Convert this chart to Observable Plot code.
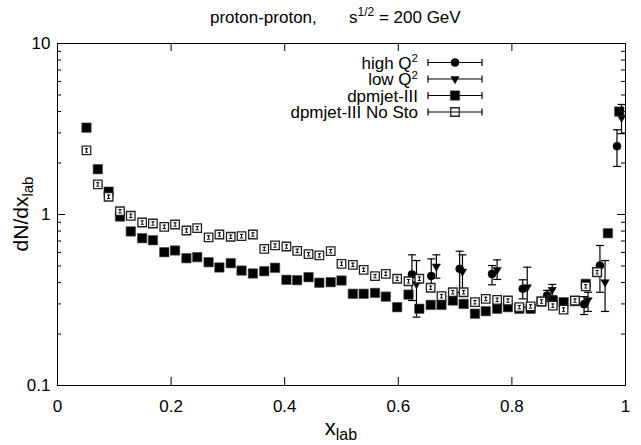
<!DOCTYPE html>
<html><head><meta charset="utf-8">
<script src="https://cdn.jsdelivr.net/npm/d3@7"></script>
<script src="https://cdn.jsdelivr.net/npm/@observablehq/plot@0.6"></script>
<style>body{margin:0;background:#fff}</style>
</head><body><div id="chart"></div>
<script>
// ---- data ----
const xBins = [0.051,0.071,0.090,0.110,0.129,0.149,0.168,0.188,0.207,0.227,0.246,0.266,0.285,0.305,0.324,0.344,0.364,0.383,0.403,0.422,0.442,0.461,0.481,0.500,0.520,0.539,0.559,0.578,0.598,0.618,0.637,0.657,0.676,0.696,0.715,0.735,0.754,0.774,0.793,0.813,0.833,0.852,0.872,0.891,0.911,0.930,0.950,0.969,0.989];
const dpmjet = [3.22,1.84,1.36,0.973,0.796,0.727,0.707,0.602,0.616,0.555,0.563,0.526,0.49,0.519,0.47,0.452,0.466,0.488,0.415,0.413,0.43,0.399,0.402,0.411,0.344,0.344,0.348,0.331,0.287,0.34,0.281,0.296,0.296,0.314,0.30,0.263,0.272,0.281,0.287,0.281,0.281,0.31,0.314,0.307,0.311,0.393,0.46,0.777,4.0];
const dpmjetNoSto = [2.37,1.50,1.27,1.045,0.983,0.898,0.886,0.847,0.874,0.806,0.832,0.734,0.764,0.741,0.747,0.764,0.63,0.659,0.65,0.613,0.586,0.576,0.61,0.515,0.508,0.475,0.436,0.45,0.421,0.407,0.421,0.373,0.333,0.351,0.351,0.307,0.321,0.317,0.314,0.287,0.29,0.31,0.293,0.278,0.314,0.38,0.46,null,null];
const highQ2X  = [0.624,0.658,0.708,0.765,0.819,0.862,0.927,0.955,0.985];
const highQ2   = [0.446,0.437,0.481,0.449,0.368,0.336,0.299,0.503,2.51];
const highQ2Lo = [0.314,0.36,0.351,0.388,0.321,0.31,0.26,0.351,1.91];
const highQ2Hi = [0.581,0.55,0.61,0.503,0.415,0.36,0.331,0.659,3.13];
const lowQ2X   = [0.632,0.667,0.713,0.774,0.827,0.871,0.934,0.964,0.993];
const lowQ2    = [0.393,0.497,0.464,0.475,0.376,0.363,0.316,0.402,3.68];
const lowQ2Lo  = [0.251,0.424,0.344,0.417,0.287,0.335,0.271,0.271,2.97];
const lowQ2Hi  = [0.538,0.581,0.581,0.543,0.492,0.39,0.351,0.538,4.4];
const xTicks = [0,0.2,0.4,0.6,0.8,1];
const yTicks = [0.1,1,10];
const yMinor = [0.2,0.3,0.4,0.5,0.6,0.7,0.8,0.9,2,3,4,5,6,7,8,9];
const seriesNames = ["high Q", "low Q", "dpmjet-III", "dpmjet-III No Sto"];
const seriesSup = ["2", "2", "", ""];

// ---- tables ----
const dpm = xBins.map((x,i)=>({x, y: dpmjet[i]}));
const nosto = xBins.map((x,i)=>({x, y: dpmjetNoSto[i]})).filter(d => d.y != null);
const hq = highQ2X.map((x,i)=>({x, y: highQ2[i], lo: highQ2Lo[i], hi: highQ2Hi[i]}));
const lq = lowQ2X.map((x,i)=>({x, y: lowQ2[i], lo: lowQ2Lo[i], hi: lowQ2Hi[i]}));

const W=641, H=445, mL=57, mR=16, mT=43, mB=60;
const pw = W-mL-mR, ph = H-mT-mB;
const FONT = "'Liberation Sans', Arial, Helvetica, sans-serif";

const capSym = {draw(ctx, size){ const r = Math.sqrt(size/Math.PI); ctx.moveTo(-r,0); ctx.lineTo(r,0); }};

const errMarks = (data) => [
  Plot.ruleX(data, {x:"x", y1:"lo", y2:"hi", stroke:"#000", strokeWidth:1.2}),
  Plot.dot(data, {x:"x", y:"lo", symbol:capSym, r:4, stroke:"#000", strokeWidth:1.2, fill:"none"}),
  Plot.dot(data, {x:"x", y:"hi", symbol:capSym, r:4, stroke:"#000", strokeWidth:1.2, fill:"none"})
];

const chart = Plot.plot({
  width: W, height: H, marginLeft: mL, marginRight: mR, marginTop: mT, marginBottom: mB,
  style: {fontFamily: FONT, fontSize: "17px", background: "#fff", color: "#000"},
  x: {domain: [0,1]},
  y: {type: "log", domain: [0.1,10]},
  marks: [
    Plot.tickY(yTicks, {y: d=>d, insetRight: pw-8, stroke:"#000"}),
    Plot.tickY(yTicks, {y: d=>d, insetLeft: pw-8, stroke:"#000"}),
    Plot.tickY(yMinor, {y: d=>d, insetRight: pw-4, stroke:"#000"}),
    Plot.tickY(yMinor, {y: d=>d, insetLeft: pw-4, stroke:"#000"}),
    Plot.tickX(xTicks, {x: d=>d, insetTop: ph-8, stroke:"#000"}),
    Plot.tickX(xTicks, {x: d=>d, insetBottom: ph-8, stroke:"#000"}),
    Plot.axisY({ticks: yTicks, tickSize: 0, tickPadding: 7, tickFormat: d=>String(d), label: null}),
    Plot.axisX({ticks: xTicks, tickSize: 0, tickPadding: 14, tickFormat: d=>String(d), label: null}),
    ...errMarks(hq),
    Plot.dot(hq, {x:"x", y:"y", r:4, fill:"#000", stroke:"#000", strokeWidth:0.5}),
    ...errMarks(lq),
    Plot.dot(lq, {x:"x", y:"y", symbol:"triangle", rotate:180, r:3.1, fill:"#000", stroke:"#000", strokeWidth:0.5}),
    Plot.dot(dpm, {x:"x", y:"y", symbol:"square", r:5.3, fill:"#000", stroke:"#444", strokeWidth:0.6}),
    Plot.dot(nosto, {x:"x", y:"y", symbol:"square", r:4.8, fill:"#fff", stroke:"#222", strokeWidth:1.3}),
    Plot.ruleX(nosto, {x:"x", y1: d=>d.y*0.977, y2: d=>d.y*1.023, stroke:"#000", strokeWidth:1}),
    Plot.dot(nosto, {x:"x", y: d=>d.y*0.977, symbol:capSym, r:1.6, stroke:"#000", strokeWidth:1, fill:"none"}),
    Plot.dot(nosto, {x:"x", y: d=>d.y*1.023, symbol:capSym, r:1.6, stroke:"#000", strokeWidth:1, fill:"none"}),
    Plot.frame({stroke:"#000", strokeWidth:1})
  ]
});
document.getElementById("chart").appendChild(chart);

const svg = d3.select(chart);
// title (two pieces)
svg.append("text").attr("x", 210).attr("y", 23).attr("text-anchor","start").attr("font-family", FONT).attr("font-size", 17).attr("fill", "#000")
  .text("proton-proton,");
const t2 = svg.append("text").attr("x", 349).attr("y", 23).attr("text-anchor","start").attr("font-family", FONT).attr("font-size", 17).attr("fill", "#000");
t2.append("tspan").text("s");
t2.append("tspan").attr("dy", -7).attr("font-size", 12).text("1/2");
t2.append("tspan").attr("dy", 7).text(" = 200 GeV");

// y label
const yl = svg.append("text").attr("transform", `translate(28,${mT+ph/2}) rotate(-90)`).attr("text-anchor","middle")
  .attr("font-family", FONT).attr("font-size", 21).attr("fill", "#000");
yl.append("tspan").text("dN/dx");
yl.append("tspan").attr("dy", 5).attr("font-size", 15).text("lab");

// x label
const xl = svg.append("text").attr("x", mL+pw/2).attr("y", 435).attr("text-anchor","middle")
  .attr("font-family", FONT).attr("font-size", 22).attr("fill", "#000");
xl.append("tspan").text("x");
xl.append("tspan").attr("dy", 5).attr("font-size", 16).text("lab");

// legend
const rows = [62.5, 79, 95.5, 112];
const lg = svg.append("g").attr("font-family", FONT).attr("font-size", 17).attr("fill", "#000");
rows.forEach((cy, i) => {
  const tx = lg.append("text").attr("x", 418).attr("y", cy+6).attr("text-anchor","end");
  tx.append("tspan").text(seriesNames[i]);
  if (seriesSup[i]) tx.append("tspan").attr("dy", -6.5).attr("font-size", 11.5).text(seriesSup[i]);
  lg.append("line").attr("x1",428).attr("x2",482).attr("y1",cy).attr("y2",cy).attr("stroke","#000").attr("stroke-width",1.2);
  [428,482].forEach(x => lg.append("line").attr("x1",x).attr("x2",x).attr("y1",cy-3.5).attr("y2",cy+3.5).attr("stroke","#000").attr("stroke-width",1.2));
  let path, fill="#000", stroke="#000", sw=0.5, rot=0;
  if (i===0) path = d3.symbol(d3.symbolCircle, Math.PI*16)();
  if (i===1) { path = d3.symbol(d3.symbolTriangle, Math.PI*3.1*3.1)(); rot=180; }
  if (i===2) { path = d3.symbol(d3.symbolSquare, Math.PI*5.3*5.3)(); stroke="#444"; sw=0.6; }
  if (i===3) { path = d3.symbol(d3.symbolSquare, Math.PI*4.8*4.8)(); fill="#fff"; stroke="#222"; sw=1.3; }
  lg.append("path").attr("d", path).attr("transform", `translate(455,${cy}) rotate(${rot})`).attr("fill", fill).attr("stroke", stroke).attr("stroke-width", sw);
  if (i===3) lg.append("line").attr("x1",451).attr("x2",459).attr("y1",cy).attr("y2",cy).attr("stroke","#000");
});
</script>
</body></html>
